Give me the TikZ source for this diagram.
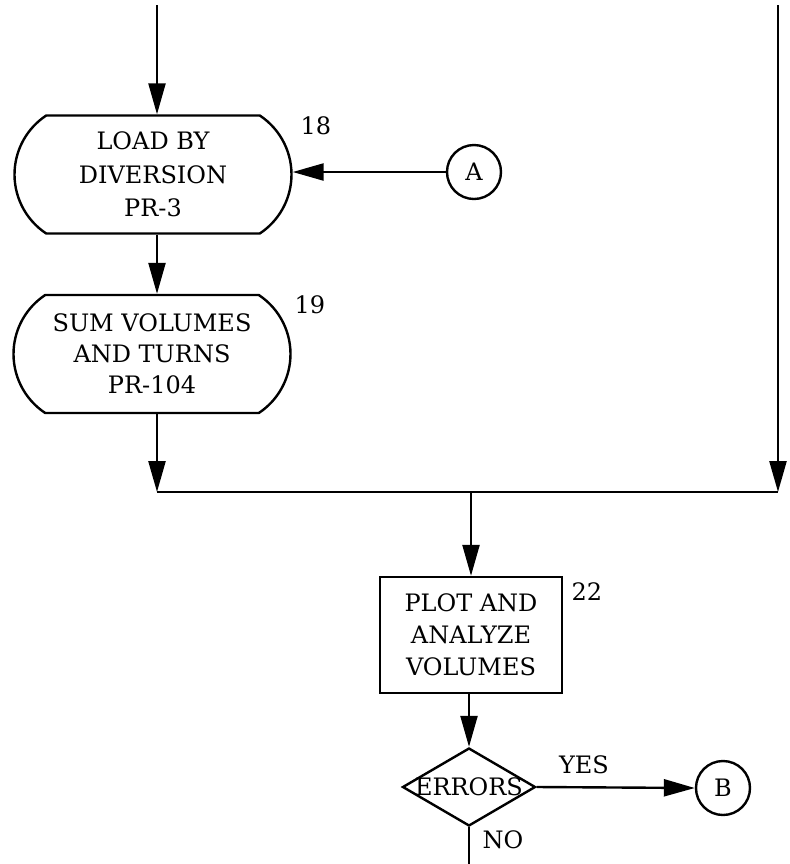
\documentclass[tikz,border=0pt]{standalone}
\usepackage{fontspec}
\setmainfont{DejaVu Serif}
\usetikzlibrary{arrows.meta,shapes.misc,shapes.geometric}
\begin{document}
\begin{tikzpicture}[x=0.5pt,y=-0.5pt,
  line width=1.2pt,
  flow/.style={-{Triangle[length=15.5pt,width=8.5pt]}},
  txt/.style={font=\fontsize{12}{16}\selectfont},
  term/.style={draw, rounded rectangle, rounded rectangle arc length=113,
    minimum width=138.5pt, minimum height=59pt, inner sep=0pt, align=center, txt},
  proc/.style={draw, rectangle, minimum width=91pt, minimum height=58pt,
    inner sep=0pt, align=center, txt},
  dec/.style={draw, diamond, minimum width=66.5pt, minimum height=39pt,
    inner sep=0pt, txt},
  conn/.style={draw, circle, minimum size=27pt, inner sep=0pt, txt},
  tag/.style={txt}
]
\useasboundingbox (0,0) rectangle (790,864);

% process steps
\node[term, font=\fontsize{12}{16.75}\selectfont] (s18) at (153,174.5)
  {LOAD BY\\DIVERSION\\PR-3};
\node[term, font=\fontsize{12}{15.5}\selectfont] (s19) at (152,354)
  {SUM VOLUMES\\AND TURNS\\PR-104};
\node[proc] (s22) at (471,635) {PLOT AND\\ANALYZE\\VOLUMES};
\node[dec] (err) at (469,787) {\makebox[0pt]{ERRORS}};

% connectors
\node[conn] (ca) at (474,172) {A};
\node[conn] (cb) at (723,788) {B};

% step numbers and branch labels
\node[tag] (n18) at (316,126) {18};
\node[tag] (n19) at (310,305) {19};
\node[tag] (n22) at (587,592) {22};
\node[tag] (lyes) at (584,765) {YES};
\node[tag] (lno) at (503,840) {NO};

% line ends and junction points
\coordinate (ltop) at (157,5);
\coordinate (rtop) at (778,5);
\coordinate (jl) at (157,492);
\coordinate (jr) at (778,492);
\coordinate (jm) at (471,492);
\coordinate (outno) at (469,864);

% flow lines
\draw[flow] (ltop) -- (ltop |- s18.north);
\draw[flow] (ca.west) -- (s18.east |- ca.west);
\draw[flow] (s18.south -| ltop) -- (s19.north -| ltop);
\draw[flow] (s19.south -| ltop) -- (jl);
\draw[flow] (rtop) -- (jr);
\draw (jl) -- (jr);
\draw[flow] (jm) -- (s22.north -| jm);
\draw[flow] (s22.south -| err.north) -- (err.north);
\draw[flow] (err.east) -- (cb.west);
\draw (err.south) -- (outno);
\end{tikzpicture}
\end{document}
